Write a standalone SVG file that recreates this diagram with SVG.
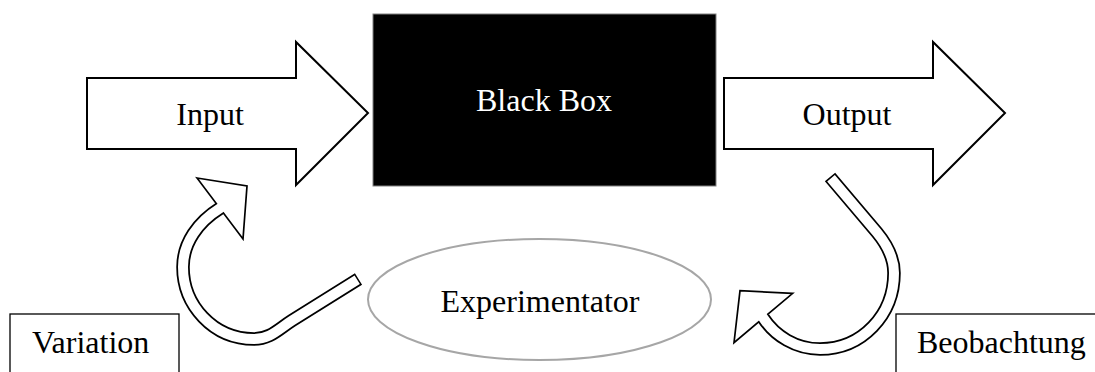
<svg xmlns="http://www.w3.org/2000/svg" width="1095" height="372" viewBox="0 0 1095 372">
<style>
.lbl{font-family:"Liberation Serif","Times New Roman",serif;font-size:32px;fill:#000}
.big{fill:#fff;stroke:#000;stroke-width:2;stroke-linejoin:miter}
.bandO{fill:none;stroke:#000;stroke-width:13.5;stroke-linecap:butt}
.bandI{fill:none;stroke:#fff;stroke-width:10;stroke-linecap:butt}
.head{fill:#fff;stroke:#000;stroke-width:1.7;stroke-linejoin:miter}
.box{fill:#fff;stroke:#000;stroke-width:1.3}
</style>
<rect width="1095" height="372" fill="#fff"/>
<g id="input">
<polygon class="big" points="87,78 296,78 296,42 368,113 296,185 296,149 87,149"/>
<text class="lbl" x="210" y="125" text-anchor="middle">Input</text>
</g>
<g id="blackbox">
<rect x="373" y="14" width="343" height="172" fill="#000" stroke="#808080" stroke-width="1"/>
<text class="lbl" x="544" y="111" text-anchor="middle" style="fill:#fff">Black Box</text>
</g>
<g id="output">
<polygon class="big" points="724,78 933,78 933,42 1005,113 933,185 933,149 724,149"/>
<text class="lbl" x="847" y="125" text-anchor="middle">Output</text>
</g>
<g id="experimentator">
<ellipse cx="539.5" cy="299.5" rx="171.5" ry="60.5" fill="#fff" stroke="#a6a6a6" stroke-width="2"/>
<text class="lbl" x="540" y="312" text-anchor="middle">Experimentator</text>
</g>
<g id="variation">
<rect class="box" x="10" y="314" width="169" height="70"/>
<text class="lbl" x="32" y="353">Variation</text>
</g>
<g id="beobachtung">
<rect class="box" x="896" y="314" width="210" height="70"/>
<text class="lbl" x="917" y="353">Beobachtung</text>
</g>
<g id="connectors">
<g id="variation-arrow">
<path class="bandO" d="M358.5,279 L292,320.5 C278,329.5 270,339 254,339 C213,339 183,305 183,267 C183,243 198,222 220,208.3"/>
<polygon class="head" points="197,178 247,186 243,239"/>
<path class="bandI" d="M357.2,279.8 L292,320.5 C278,329.5 270,339 254,339 C213,339 183,305 183,267 C183,243 198,222 220,208.3 L223,206.4"/>
</g>
<g id="beobachtung-arrow">
<path class="bandO" d="M830,177 L877,232.5 C889,247 894,260 894,273 C894,315 862,349 820,349 C796,349 775,336 763.3,318"/>
<polygon class="head" points="792.7,293.3 740,290.7 734,342.7"/>
<path class="bandI" d="M831,178.2 L877,232.5 C889,247 894,260 894,273 C894,315 862,349 820,349 C796,349 775,336 763.3,318 L761.3,315"/>
</g>
</g>
</svg>
